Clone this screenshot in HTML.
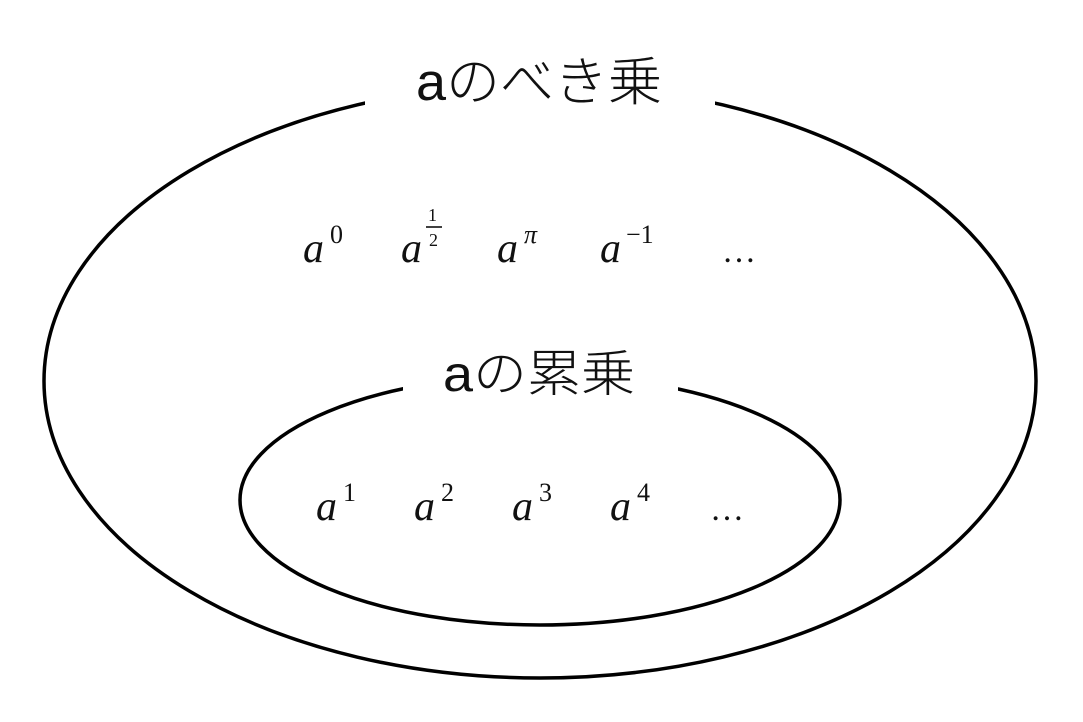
<!DOCTYPE html>
<html><head><meta charset="utf-8"><style>
html,body{margin:0;padding:0;background:#fff;}
svg{display:block;}
.t{font-family:"Liberation Sans","Noto Sans CJK JP",sans-serif;fill:#111;font-weight:300;}
.m{font-family:"Liberation Serif","DejaVu Serif",serif;font-style:italic;fill:#111;}
.s{font-family:"Liberation Serif","DejaVu Serif",serif;fill:#111;}
</style></head><body>
<svg width="1083" height="722" viewBox="0 0 1083 722">
<ellipse cx="540" cy="381" rx="496" ry="297" fill="none" stroke="#000" stroke-width="3.5"/>
<rect x="365" y="55" width="350" height="75" fill="#fff"/>
<ellipse cx="540" cy="500" rx="300" ry="125" fill="none" stroke="#000" stroke-width="3.5"/>
<rect x="403" y="345" width="275" height="55" fill="#fff"/>
<text class="t" x="539" y="100" font-size="53" text-anchor="middle" textLength="246" lengthAdjust="spacingAndGlyphs">aのべき乗</text>
<text class="t" x="539" y="391" font-size="50" text-anchor="middle" textLength="192" lengthAdjust="spacingAndGlyphs">aの累乗</text>

<text class="m" x="303" y="262" font-size="42">a</text><text class="s" x="330" y="243" font-size="26">0</text>
<text class="m" x="401" y="262" font-size="42">a</text>
<text class="s" x="428" y="221" font-size="18">1</text>
<line x1="426" y1="227" x2="442" y2="227" stroke="#000" stroke-width="1.5"/>
<text class="s" x="429" y="246" font-size="18">2</text>
<text class="m" x="497" y="262" font-size="42">a</text><text class="m" x="524" y="243" font-size="26">π</text>
<text class="m" x="600" y="262" font-size="42">a</text><text class="s" x="626" y="243" font-size="26">−1</text>
<text class="s" x="722" y="262" font-size="34">…</text>

<text class="m" x="316" y="520" font-size="42">a</text><text class="s" x="343" y="501" font-size="26">1</text>
<text class="m" x="414" y="520" font-size="42">a</text><text class="s" x="441" y="501" font-size="26">2</text>
<text class="m" x="512" y="520" font-size="42">a</text><text class="s" x="539" y="501" font-size="26">3</text>
<text class="m" x="610" y="520" font-size="42">a</text><text class="s" x="637" y="501" font-size="26">4</text>
<text class="s" x="710" y="520" font-size="34">…</text>
</svg>
</body></html>
